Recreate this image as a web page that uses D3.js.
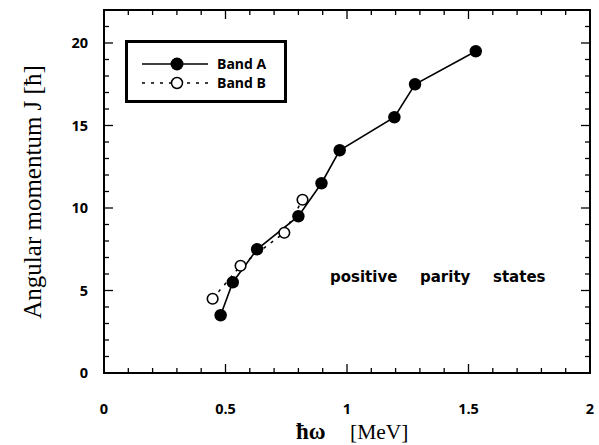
<!DOCTYPE html>
<html><head><meta charset="utf-8">
<script src="https://cdn.jsdelivr.net/npm/d3@7"></script>
<style>body{margin:0;background:#fff}</style>
</head><body>
<svg id="c" width="599" height="445"></svg>
<script>
const bandA_w = [0.48, 0.53, 0.63, 0.80, 0.895, 0.97, 1.195, 1.28, 1.53];
const bandA_J = [3.5, 5.5, 7.5, 9.5, 11.5, 13.5, 15.5, 17.5, 19.5];
const bandB_w = [0.447, 0.562, 0.742, 0.817];
const bandB_J = [4.5, 6.5, 8.5, 10.5];
const xTicks = [0, 0.5, 1, 1.5, 2];
const xTickLabels = ["0", "0.5", "1", "1.5", "2"];
const yTicks = [0, 5, 10, 15, 20];
const yTickLabels = ["0", "5", "10", "15", "20"];
const seriesNames = ["Band A", "Band B"];
const noteWords = ["positive", "parity", "states"];

const svg = d3.select("#c");
const L = 104, R = 590, T = 10, B = 373;
const x = d3.scaleLinear().domain([0, 2]).range([L, R]);
const y = d3.scaleLinear().domain([0, 22]).range([B, T]);

const g = svg.append("g");
const minorX = d3.range(0, 2.0001, 0.1);
const minorY = d3.range(0, 22.0001, 1);
function isMajor(v, step){ return Math.abs(v/step - Math.round(v/step)) < 1e-6; }

minorX.forEach(v => {
  const len = isMajor(v, 0.5) ? 9 : 5;
  g.append("line").attr("x1", x(v)).attr("x2", x(v)).attr("y1", B).attr("y2", B - len).attr("stroke", "#000").attr("stroke-width", 1.3);
  g.append("line").attr("x1", x(v)).attr("x2", x(v)).attr("y1", T).attr("y2", T + len).attr("stroke", "#000").attr("stroke-width", 1.3);
});
minorY.forEach(v => {
  const len = isMajor(v, 5) ? 9 : 5;
  g.append("line").attr("y1", y(v)).attr("y2", y(v)).attr("x1", L).attr("x2", L + len).attr("stroke", "#000").attr("stroke-width", 1.3);
  g.append("line").attr("y1", y(v)).attr("y2", y(v)).attr("x1", R).attr("x2", R - len).attr("stroke", "#000").attr("stroke-width", 1.3);
});
g.append("rect").attr("x", L).attr("y", T).attr("width", R - L).attr("height", B - T)
  .attr("fill", "none").attr("stroke", "#000").attr("stroke-width", 2);

const tf = "'Open Sans', 'DejaVu Sans', sans-serif";
xTicks.forEach((v, i) => {
  g.append("text").attr("x", x(v)).attr("y", 414).attr("text-anchor", "middle")
    .attr("font-family", tf).attr("font-weight", 700).attr("font-size", 14.5).text(xTickLabels[i]);
});
yTicks.forEach((v, i) => {
  g.append("text").attr("x", 88).attr("y", y(v) + 5).attr("text-anchor", "end")
    .attr("font-family", tf).attr("font-weight", 700).attr("font-size", 14.5).text(yTickLabels[i]);
});

const sf = "'Liberation Serif', 'DejaVu Serif', serif";
const xt = svg.append("text").attr("y", 439).attr("font-family", sf);
xt.append("tspan").attr("x", 296).attr("font-size", 23).attr("font-weight", 700).text("ħω");
xt.append("tspan").attr("x", 350).attr("font-size", 21.5).text("[MeV]");
svg.append("text").attr("transform", "translate(41,192) rotate(-90)").attr("text-anchor", "middle")
  .attr("font-family", sf).attr("font-size", 25)
  .text("Angular momentum J [ħ]");

const A = bandA_w.map((w, i) => [w, bandA_J[i]]);
const Bd = bandB_w.map((w, i) => [w, bandB_J[i]]);
const line = d3.line().x(d => x(d[0])).y(d => y(d[1]));
svg.append("path").attr("d", line(Bd)).attr("fill", "none").attr("stroke", "#000")
  .attr("stroke-width", 1.5).attr("stroke-dasharray", "3,6");
svg.append("path").attr("d", line(A)).attr("fill", "none").attr("stroke", "#000").attr("stroke-width", 1.6);
svg.selectAll("circle.b").data(Bd).enter().append("circle").attr("class", "b")
  .attr("cx", d => x(d[0])).attr("cy", d => y(d[1])).attr("r", 5.3)
  .attr("fill", "#fff").attr("stroke", "#000").attr("stroke-width", 1.6);
svg.selectAll("circle.a").data(A).enter().append("circle").attr("class", "a")
  .attr("cx", d => x(d[0])).attr("cy", d => y(d[1])).attr("r", 6.2).attr("fill", "#000");

const lg = svg.append("g");
lg.append("rect").attr("x", 126.5).attr("y", 41.5).attr("width", 159).attr("height", 60)
  .attr("fill", "#fff").attr("stroke", "#000").attr("stroke-width", 3);
lg.append("line").attr("x1", 142).attr("x2", 208).attr("y1", 64).attr("y2", 64).attr("stroke", "#000").attr("stroke-width", 1.5);
lg.append("circle").attr("cx", 177).attr("cy", 64).attr("r", 6.5).attr("fill", "#000");
lg.append("line").attr("x1", 142).attr("x2", 208).attr("y1", 83).attr("y2", 83).attr("stroke", "#000").attr("stroke-width", 1.5).attr("stroke-dasharray", "3,6");
lg.append("circle").attr("cx", 177).attr("cy", 83).attr("r", 5.5).attr("fill", "#fff").attr("stroke", "#000").attr("stroke-width", 1.5);
seriesNames.forEach((n, i) => {
  lg.append("text").attr("x", 217).attr("y", 69 + i * 19).attr("font-family", tf)
    .attr("font-weight", 700).attr("font-size", 14).text(n);
});

const noteX = [330, 420, 493];
const note = svg.append("text").attr("y", 282).attr("font-family", "'DejaVu Sans', sans-serif")
  .attr("font-weight", 700).attr("font-size", 15);
noteWords.forEach((w, i) => note.append("tspan").attr("x", noteX[i]).text(w));
</script>
</body></html>
